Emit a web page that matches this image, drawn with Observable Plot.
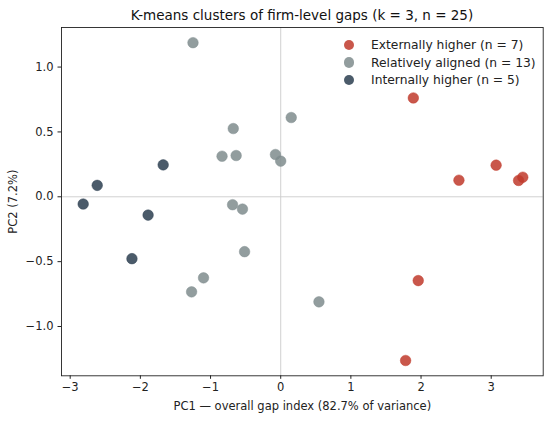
<!DOCTYPE html>
<html>
<head>
<meta charset="utf-8">
<script src="https://cdn.jsdelivr.net/npm/d3@7"></script>
<script src="https://cdn.jsdelivr.net/npm/@observablehq/plot@0.6"></script>
<style>
  html, body { margin: 0; padding: 0; background: #fff; }
  #wrap { position: relative; width: 550px; height: 421px; font-family: "DejaVu Sans", sans-serif; }
  #title { height: 24px; padding-top: 3px; box-sizing: border-box; line-height: 24px; font-size: 13.5px; color: #111; text-align: center; margin-left: 61px; width: 482px; white-space: nowrap; }
  #legend { position: absolute; left: 343.5px; top: 36px; font-size: 12.3px; color: #222; }
  #legend .row { display: flex; align-items: center; height: 17.7px; }
  #legend .sw { width: 10.5px; height: 10.5px; border-radius: 50%; margin-right: 17px; }
</style>
</head>
<body>
<div id="wrap">
  <div id="title">K-means clusters of firm-level gaps (k = 3, n = 25)</div>
  <div id="chart"></div>
  <div id="legend"></div>
</div>
<script>
const clusters = ["Externally higher", "Relatively aligned", "Internally higher"];
const clusterCounts = [7, 13, 5];
const clusterColors = ["#c0392b", "#7f8c8d", "#2c3e50"];

const pc1Ext = [1.89, 2.54, 3.07, 3.39, 3.45, 1.96, 1.78];
const pc2Ext = [0.762, 0.128, 0.244, 0.126, 0.151, -0.646, -1.262];

const pc1Ali = [-1.25, -0.676, -0.836, -0.635, -0.075, 0.0, 0.15, -0.686, -0.545, -0.515, -1.10, -1.27, 0.545];
const pc2Ali = [1.188, 0.526, 0.313, 0.318, 0.326, 0.275, 0.611, -0.061, -0.095, -0.423, -0.625, -0.733, -0.81];

const pc1Int = [-1.675, -2.615, -2.815, -1.89, -2.12];
const pc2Int = [0.246, 0.088, -0.056, -0.141, -0.477];

const xTicks = [-3, -2, -1, 0, 1, 2, 3];
const yTicks = [-1.0, -0.5, 0.0, 0.5, 1.0];

const groups = [[pc1Ext, pc2Ext], [pc1Ali, pc2Ali], [pc1Int, pc2Int]];
const points = [];
groups.forEach(([xs, ys], g) => xs.forEach((x, i) => points.push({x, y: ys[i], cluster: clusters[g]})));

const minus = s => s.replace("-", "\u2212");

const chart = Plot.plot({
  width: 550,
  height: 397,
  marginTop: 3,
  marginBottom: 45.7,
  marginLeft: 61,
  marginRight: 7.3,
  style: { fontFamily: "DejaVu Sans, sans-serif", fontSize: "11.5px", color: "#222", background: "#fff" },
  x: { domain: [-3.124, 3.741] },
  y: { domain: [-1.38, 1.305] },
  color: { domain: clusters, range: clusterColors },
  marks: [
    Plot.ruleX([0], { stroke: "#cccccc", strokeWidth: 0.9 }),
    Plot.ruleY([0], { stroke: "#cccccc", strokeWidth: 0.9 }),
    Plot.axisX({ ticks: xTicks, tickFormat: d => minus(String(d)), tickSize: 3.5, tickPadding: 3.5, fontSize: 11.5,
      label: "PC1 \u2014 overall gap index (82.7% of variance)", labelAnchor: "center", labelArrow: "none", labelOffset: 34.5 }),
    Plot.axisY({ ticks: yTicks, tickFormat: d => minus(d.toFixed(1)), tickSize: 3.5, tickPadding: 4.5, fontSize: 11.5,
      label: "PC2 (7.2%)", labelAnchor: "center", labelArrow: "none", labelOffset: 53 }),
    Plot.dot(points, { x: "x", y: "y", fill: "cluster", fillOpacity: 0.85, r: 5.3, stroke: "cluster", strokeOpacity: 0.9, strokeWidth: 0.5 }),
    Plot.frame({ stroke: "#222", strokeWidth: 0.9 })
  ]
});
document.getElementById("chart").appendChild(chart);

const leg = document.getElementById("legend");
clusters.forEach((c, i) => {
  const row = document.createElement("div");
  row.className = "row";
  const sw = document.createElement("div");
  sw.className = "sw";
  sw.style.background = clusterColors[i];
  sw.style.opacity = 0.85;
  const t = document.createElement("span");
  t.textContent = `${c} (n = ${clusterCounts[i]})`;
  row.appendChild(sw); row.appendChild(t);
  leg.appendChild(row);
});
</script>
</body>
</html>
